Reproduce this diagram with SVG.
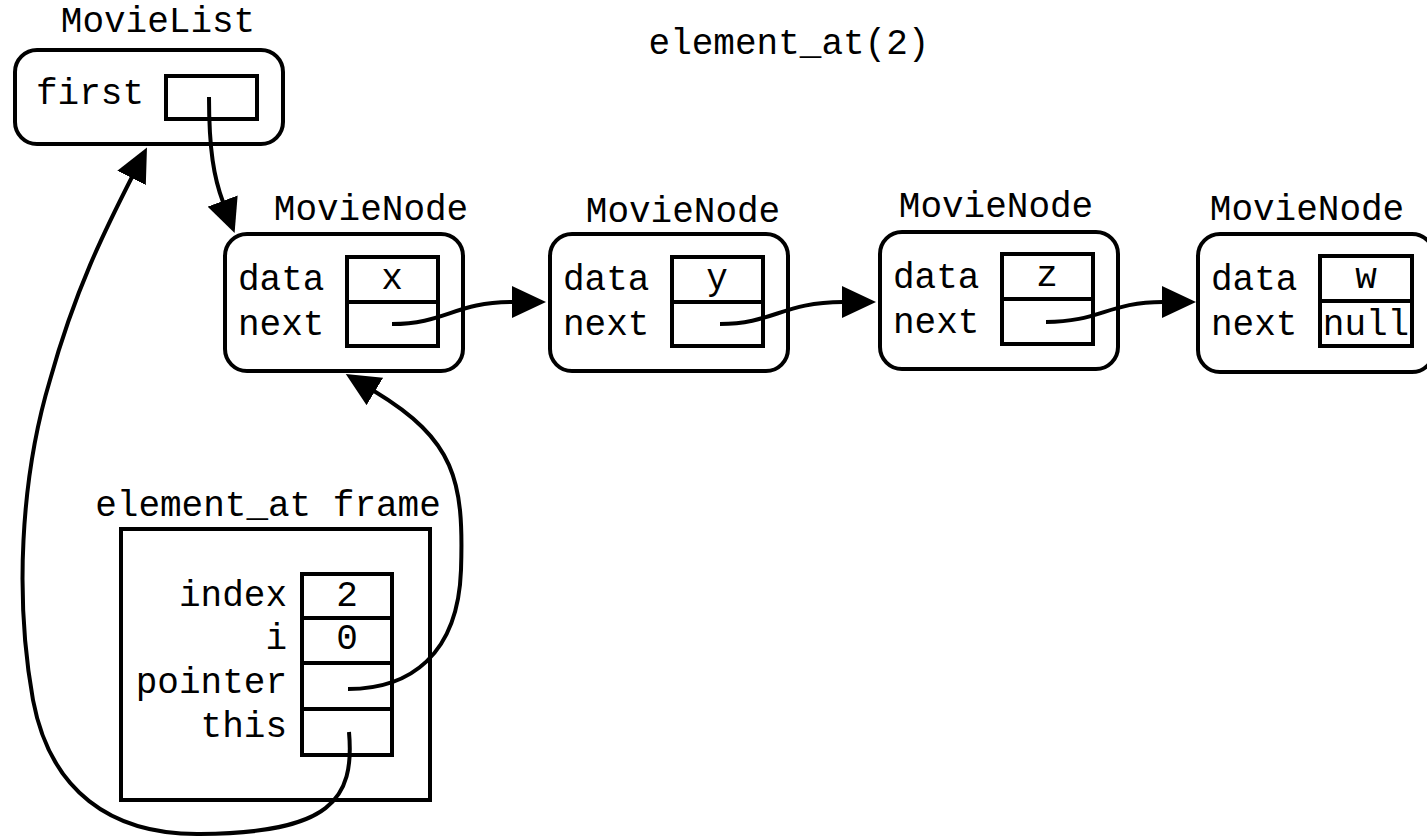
<svg xmlns="http://www.w3.org/2000/svg" width="1427" height="838" viewBox="0 0 1427 838">
  <defs>
    <style>
      text { font-family: "Liberation Mono", "Courier New", monospace; font-size: 36px; fill: #000; }
      .mid { text-anchor: middle; }
      .end { text-anchor: end; }
      .box { fill: #fff; stroke: #000; stroke-width: 4; }
      .cell { fill: none; stroke: #000; stroke-width: 4; }
      .wire { fill: none; stroke: #000; stroke-width: 4; }
    </style>
    <marker id="head" viewBox="0 0 34 32" refX="1" refY="16" markerWidth="34" markerHeight="32" markerUnits="userSpaceOnUse" orient="auto">
      <path d="M0,0 L34,16 L0,32 Z" fill="#000"/>
    </marker>
  </defs>
  <rect width="1427" height="838" fill="#fff"/>

  <text class="mid" x="789" y="54">element_at(2)</text>

  <!-- list header -->
  <g id="movielist">
    <text class="mid" x="158" y="32">MovieList</text>
    <rect class="box" x="15" y="50" width="268" height="94" rx="22"/>
    <text x="36" y="104">first</text>
    <rect class="cell" x="166" y="76" width="91" height="43"/>
  </g>

  <!-- linked nodes -->
  <g id="node1">
    <text class="mid" x="371" y="220">MovieNode</text>
    <rect class="box" x="225" y="234" width="238" height="137" rx="22"/>
    <text x="238" y="290">data</text>
    <text x="238" y="335">next</text>
    <rect class="cell" x="347" y="257" width="91" height="45"/>
    <rect class="cell" x="347" y="302" width="91" height="44"/>
    <text class="mid" x="392" y="289">x</text>
  </g>

  <g id="node2">
    <text class="mid" x="683" y="222">MovieNode</text>
    <rect class="box" x="550" y="234" width="238" height="137" rx="22"/>
    <text x="563" y="290">data</text>
    <text x="563" y="335">next</text>
    <rect class="cell" x="672" y="257" width="91" height="45"/>
    <rect class="cell" x="672" y="302" width="91" height="44"/>
    <text class="mid" x="717" y="289">y</text>
  </g>

  <g id="node3">
    <text class="mid" x="996" y="217">MovieNode</text>
    <rect class="box" x="880" y="232" width="238" height="137" rx="22"/>
    <text x="893" y="288">data</text>
    <text x="893" y="333">next</text>
    <rect class="cell" x="1002" y="254" width="91" height="45"/>
    <rect class="cell" x="1002" y="299" width="91" height="45"/>
    <text class="mid" x="1047" y="286">z</text>
  </g>

  <g id="node4">
    <text class="mid" x="1307" y="220">MovieNode</text>
    <rect class="box" x="1198" y="234" width="236" height="138" rx="22"/>
    <text x="1211" y="290">data</text>
    <text x="1211" y="335">next</text>
    <rect class="cell" x="1320" y="256" width="92" height="45"/>
    <rect class="cell" x="1320" y="301" width="92" height="45"/>
    <text class="mid" x="1366" y="288">w</text>
    <text class="mid" x="1366" y="335">null</text>
  </g>

  <!-- call frame -->
  <g id="frame">
    <text class="mid" x="268" y="516">element_at frame</text>
    <rect class="cell" x="121" y="529" width="309" height="271"/>
    <rect class="cell" x="302" y="574" width="90" height="44"/>
    <rect class="cell" x="302" y="618" width="90" height="45"/>
    <rect class="cell" x="302" y="663" width="90" height="46"/>
    <rect class="cell" x="302" y="709" width="90" height="46"/>
    <text class="end" x="287" y="606">index</text>
    <text class="end" x="287" y="649">i</text>
    <text class="end" x="287" y="693">pointer</text>
    <text class="end" x="287" y="737">this</text>
    <text class="mid" x="347" y="606">2</text>
    <text class="mid" x="347" y="649">0</text>
  </g>

  <!-- pointers -->
  <g id="connectors">
    <path class="wire" marker-end="url(#head)" d="M209,97 C209,150 214,178 223,202"/>
    <path class="wire" marker-end="url(#head)" d="M392,324 C445,324 455,302 513,302"/>
    <path class="wire" marker-end="url(#head)" d="M720,324 C773,324 783,302 843,302"/>
    <path class="wire" marker-end="url(#head)" d="M1046,322 C1099,322 1109,302 1163,302"/>
    <path class="wire" marker-end="url(#head)" d="M348,689 C410,689 458,655 461,570 C464,480 455,440 374,391"/>
    <path class="wire" marker-end="url(#head)" d="M349,732 C355,800 330,833 200,834 C110,835 50,790 33,700 C15,600 20,480 50,380 C75,290 105,230 132,177"/>
  </g>
</svg>
